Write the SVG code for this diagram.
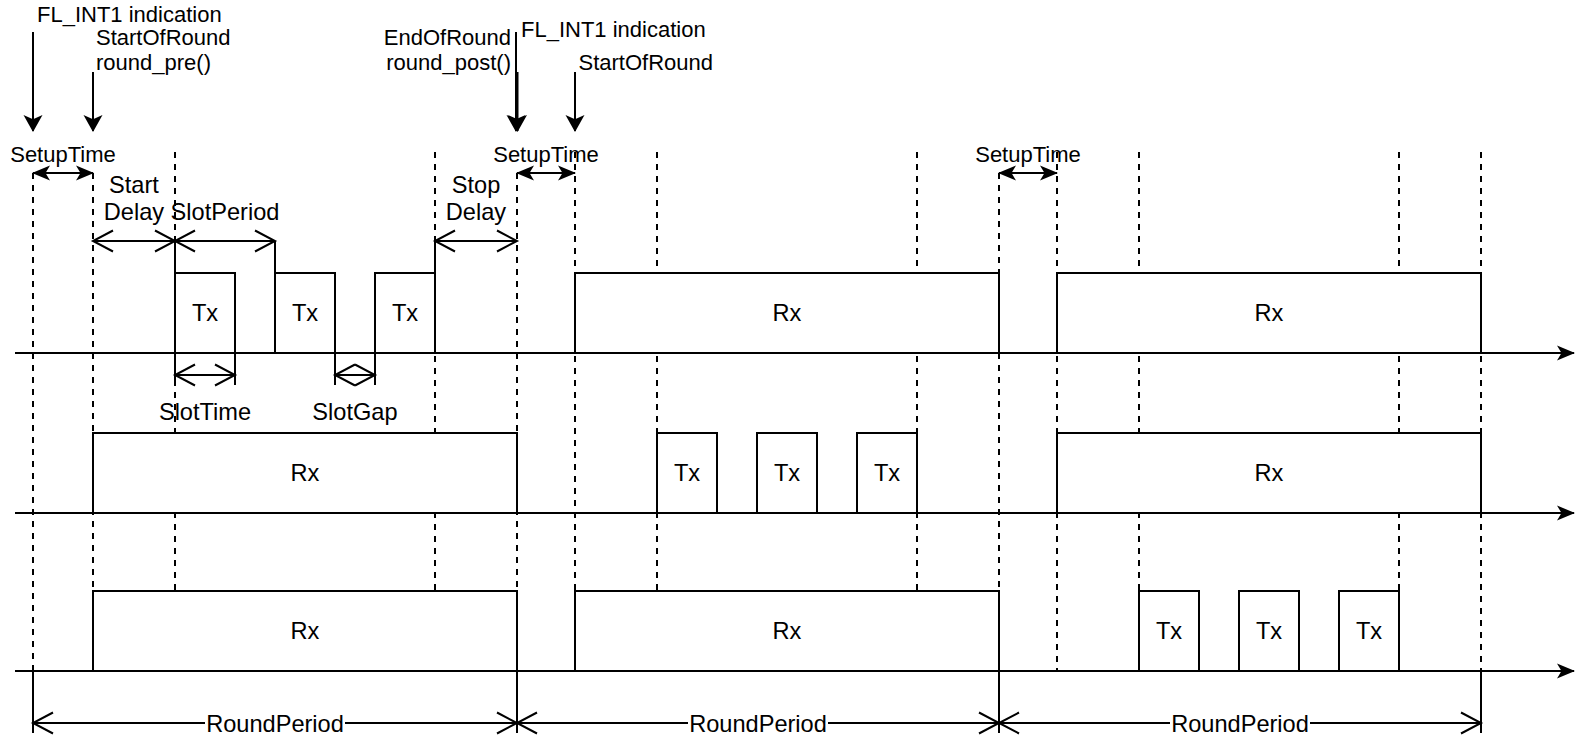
<svg xmlns="http://www.w3.org/2000/svg" width="1592" height="738" viewBox="0 0 1592 738">
<style>
.ln{stroke:#000;stroke-width:2;fill:none}
.dash{stroke:#000;stroke-width:2;fill:none;stroke-dasharray:6 6}
.box{fill:#fff;stroke:#000;stroke-width:2}
text{font-family:"Liberation Sans",Arial,Helvetica,sans-serif;fill:#000}
.s{font-size:22px}
.m{font-size:23.6px}
.c{text-anchor:middle}
.r{text-anchor:end}
</style>
<defs>
<marker id="cl" markerUnits="userSpaceOnUse" viewBox="0 0 18 15" refX="17" refY="7.5" markerWidth="18" markerHeight="15" orient="auto-start-reverse" overflow="visible"><path d="M18,7.5 L0,0 L4.5,7.5 L0,15 Z" fill="#000"/></marker>
<marker id="big" markerUnits="userSpaceOnUse" viewBox="0 0 17 19" refX="16" refY="9.5" markerWidth="17" markerHeight="19" orient="auto-start-reverse" overflow="visible"><path d="M17,9.5 L0,0 L4.25,9.5 L0,19 Z" fill="#000"/></marker>
<marker id="op" markerUnits="userSpaceOnUse" viewBox="0 0 20 21" refX="20" refY="10.5" markerWidth="20" markerHeight="21" orient="auto-start-reverse" overflow="visible"><path d="M0,0 L20,10.5 L0,21" fill="none" stroke="#000" stroke-width="2"/></marker>
</defs>

<g id="guides">
<path class="dash" d="M33,173V671 M93,173V591 M175,152V591 M435,152V591 M517,173V591 M575,152V591 M657,152V591 M917,152V591 M999,173V591 M1057,152V671 M1139,152V591 M1399,152V591 M1481,152V671"/>
<path class="ln" d="M33,671V733 M517,671V733 M999,671V733 M1481,671V733 M175,241V273 M275,241V273 M435,241V273 M175,353V385 M235,353V385 M335,353V385 M375,353V385"/>
</g>

<g id="row1">
<g id="tx1a"><rect class="box" x="175" y="273" width="60" height="80"/><text class="m c" x="205" y="321">Tx</text></g>
<g id="tx1b"><rect class="box" x="275" y="273" width="60" height="80"/><text class="m c" x="305" y="321">Tx</text></g>
<g id="tx1c"><rect class="box" x="375" y="273" width="60" height="80"/><text class="m c" x="405" y="321">Tx</text></g>
<g id="rx1a"><rect class="box" x="575" y="273" width="424" height="80"/><text class="m c" x="787" y="321">Rx</text></g>
<g id="rx1b"><rect class="box" x="1057" y="273" width="424" height="80"/><text class="m c" x="1269" y="321">Rx</text></g>
</g>
<g id="row2">
<g id="rx2a"><rect class="box" x="93" y="433" width="424" height="80"/><text class="m c" x="305" y="481">Rx</text></g>
<g id="tx2a"><rect class="box" x="657" y="433" width="60" height="80"/><text class="m c" x="687" y="481">Tx</text></g>
<g id="tx2b"><rect class="box" x="757" y="433" width="60" height="80"/><text class="m c" x="787" y="481">Tx</text></g>
<g id="tx2c"><rect class="box" x="857" y="433" width="60" height="80"/><text class="m c" x="887" y="481">Tx</text></g>
<g id="rx2b"><rect class="box" x="1057" y="433" width="424" height="80"/><text class="m c" x="1269" y="481">Rx</text></g>
</g>
<g id="row3">
<g id="rx3a"><rect class="box" x="93" y="591" width="424" height="80"/><text class="m c" x="305" y="639">Rx</text></g>
<g id="rx3b"><rect class="box" x="575" y="591" width="424" height="80"/><text class="m c" x="787" y="639">Rx</text></g>
<g id="tx3a"><rect class="box" x="1139" y="591" width="60" height="80"/><text class="m c" x="1169" y="639">Tx</text></g>
<g id="tx3b"><rect class="box" x="1239" y="591" width="60" height="80"/><text class="m c" x="1269" y="639">Tx</text></g>
<g id="tx3c"><rect class="box" x="1339" y="591" width="60" height="80"/><text class="m c" x="1369" y="639">Tx</text></g>
</g>

<g id="connectors">
<line class="ln" x1="15" y1="353" x2="1574" y2="353" marker-end="url(#cl)"/>
<line class="ln" x1="15" y1="513" x2="1574" y2="513" marker-end="url(#cl)"/>
<line class="ln" x1="15" y1="671" x2="1574" y2="671" marker-end="url(#cl)"/>
<line class="ln" x1="33" y1="32" x2="33" y2="131" marker-end="url(#big)"/>
<line class="ln" x1="93" y1="72" x2="93" y2="131" marker-end="url(#big)"/>
<line class="ln" x1="516" y1="32" x2="516" y2="131" marker-end="url(#big)"/>
<line class="ln" x1="517.5" y1="72" x2="517.5" y2="131" marker-end="url(#big)"/>
<line class="ln" x1="575" y1="72" x2="575" y2="131" marker-end="url(#big)"/>
<line class="ln" x1="33" y1="173" x2="93" y2="173" marker-start="url(#cl)" marker-end="url(#cl)"/>
<line class="ln" x1="517" y1="173" x2="575" y2="173" marker-start="url(#cl)" marker-end="url(#cl)"/>
<line class="ln" x1="999" y1="173" x2="1057" y2="173" marker-start="url(#cl)" marker-end="url(#cl)"/>
<line class="ln" x1="93" y1="241" x2="175" y2="241" marker-start="url(#op)" marker-end="url(#op)"/>
<line class="ln" x1="175" y1="241" x2="275" y2="241" marker-start="url(#op)" marker-end="url(#op)"/>
<line class="ln" x1="435" y1="241" x2="517" y2="241" marker-start="url(#op)" marker-end="url(#op)"/>
<line class="ln" x1="175" y1="375" x2="235" y2="375" marker-start="url(#op)" marker-end="url(#op)"/>
<line class="ln" x1="335" y1="375" x2="375" y2="375" marker-start="url(#op)" marker-end="url(#op)"/>
<line class="ln" x1="33" y1="723" x2="517" y2="723" marker-start="url(#op)" marker-end="url(#op)"/>
<line class="ln" x1="517" y1="723" x2="999" y2="723" marker-start="url(#op)" marker-end="url(#op)"/>
<line class="ln" x1="999" y1="723" x2="1481" y2="723" marker-start="url(#op)" marker-end="url(#op)"/>
</g>

<g id="labels">
<text class="s" x="37" y="22">FL_INT1 indication</text>
<text class="s" x="96" y="45">StartOfRound</text>
<text class="s" x="96" y="70">round_pre()</text>
<text class="s r" x="511" y="45">EndOfRound</text>
<text class="s r" x="511" y="70">round_post()</text>
<text class="s" x="521" y="37">FL_INT1 indication</text>
<text class="s" x="578.5" y="70">StartOfRound</text>
<text class="s c" x="63" y="162">SetupTime</text>
<text class="s c" x="546" y="162">SetupTime</text>
<text class="s c" x="1028" y="162">SetupTime</text>
<text class="m c" x="134" y="193">Start</text>
<text class="m c" x="134" y="220">Delay</text>
<text class="m c" x="225" y="220">SlotPeriod</text>
<text class="m c" x="476" y="193">Stop</text>
<text class="m c" x="476" y="220">Delay</text>
<text class="m c" x="205" y="420">SlotTime</text>
<text class="m c" x="355" y="420">SlotGap</text>
<rect x="205" y="711" width="140" height="25" fill="#fff"/>
<text class="m c" x="275" y="732">RoundPeriod</text>
<rect x="688" y="711" width="140" height="25" fill="#fff"/>
<text class="m c" x="758" y="732">RoundPeriod</text>
<rect x="1170" y="711" width="140" height="25" fill="#fff"/>
<text class="m c" x="1240" y="732">RoundPeriod</text>
</g>
</svg>
